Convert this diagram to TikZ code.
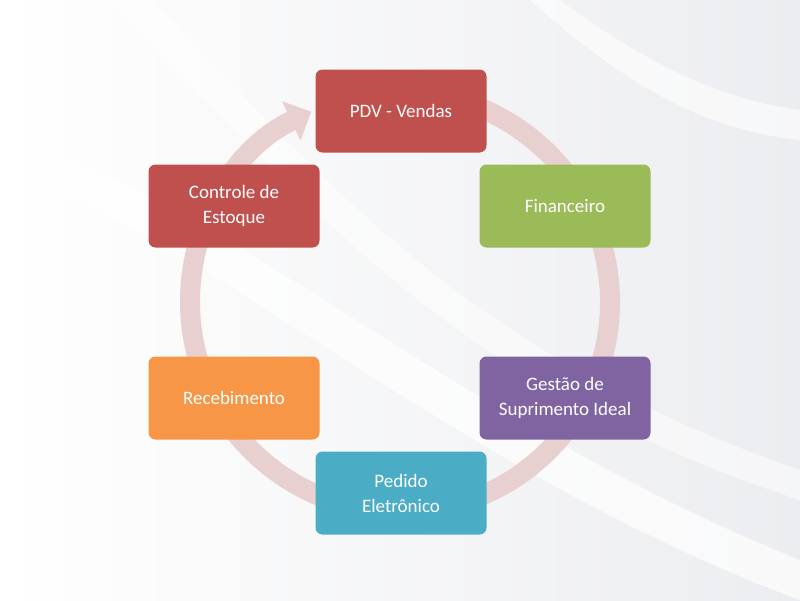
\documentclass[tikz,border=0pt]{standalone}
\usepackage{fontspec}
\setmainfont{Carlito}
\usetikzlibrary{arrows.meta}
\definecolor{cred}{HTML}{C0504D}
\definecolor{cgreen}{HTML}{9BBB59}
\definecolor{cpurple}{HTML}{8064A2}
\definecolor{cteal}{HTML}{4BACC6}
\definecolor{corange}{HTML}{F79646}
\definecolor{ring}{HTML}{E9D0D0}
\definecolor{bg}{HTML}{ECEDF0}
\tikzset{
  box/.style={rounded corners=7pt, minimum width=171pt, minimum height=83pt, text=white, align=center, font=\fontsize{19}{25}\selectfont, inner sep=2pt},
}
\begin{document}
\begin{tikzpicture}[x=1pt,y=-1pt]
\useasboundingbox (0,0) rectangle (800,600);
\shade[left color=white, right color=bg] (0,0) rectangle (800,600);
\fill[white,opacity=0.7] (0,140) .. controls (200,180) and (450,420) .. (800,560) -- (800,600) .. controls (450,470) and (200,230) .. (0,170) -- cycle;
\fill[white,opacity=0.5] (150,0) .. controls (300,150) and (450,350) .. (800,470) -- (800,500) .. controls (430,380) and (280,170) .. (110,0) -- cycle;
\fill[white,opacity=0.6] (560,0) .. controls (640,60) and (720,100) .. (800,110) -- (800,140) .. controls (700,130) and (620,80) .. (530,0) -- cycle;
\coordinate (c) at (400,302);
\draw[ring, line width=20pt, -{Triangle[width=42pt,length=22pt]}]
  (c) ++(-455:210) arc[start angle=-455, end angle=-115, radius=210];
\node[box, fill=cred] (pdv) at (401,111) {PDV - Vendas};
\node[box, fill=cgreen] (fin) at (565,206) {Financeiro};
\node[box, fill=cpurple] (ges) at (565,398) {Gestão de\\Suprimento Ideal};
\node[box, fill=cteal] (ped) at (401,493) {Pedido\\Eletrônico};
\node[box, fill=corange] (rec) at (234,398) {Recebimento};
\node[box, fill=cred] (con) at (234,206) {Controle de\\Estoque};
\end{tikzpicture}
\end{document}
